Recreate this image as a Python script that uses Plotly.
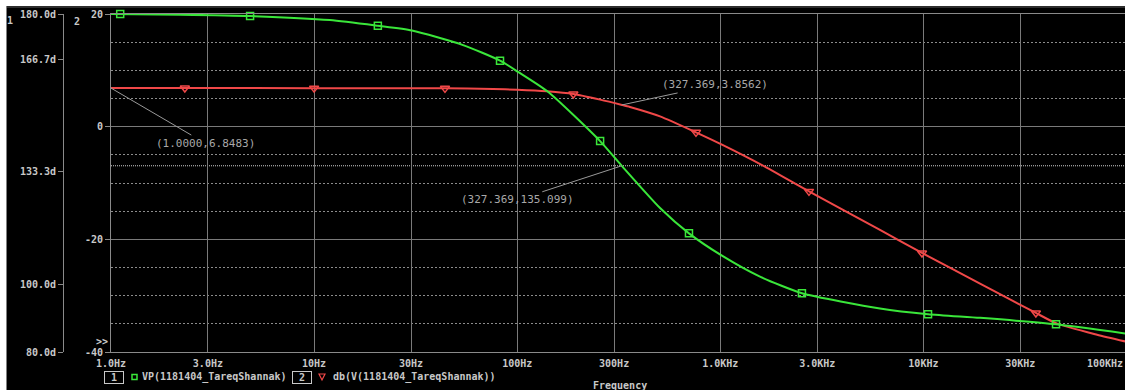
import numpy as np
import plotly.graph_objects as go

W, H = 1125, 390

# ---- data ----
phase_freq = [1, 2.19, 4.84, 11.97, 20.6, 30.3, 54.1, 82.3, 100.9, 141.8, 256, 328, 505, 701,
              1019, 1568, 2523, 6112, 10540, 19000, 44980, 98400]
phase_deg = [180.0, 179.8, 179.4, 178.2, 176.5, 175.1, 170.8, 166.2, 162.9, 157.0, 142.4, 135.0,
             122.6, 115.1, 108.5, 102.3, 97.4, 92.9, 91.2, 90.1, 88.2, 85.5]

mag_freq = [1, 2.31, 10, 44.1, 76, 100, 140, 189, 256, 328, 359, 505, 759, 1019, 1622, 2733,
            6112, 9840, 19000, 35800, 45500, 71600, 98400]
mag_db = [6.85, 6.85, 6.84, 6.80, 6.69, 6.55, 6.27, 5.80, 4.8, 3.86, 3.50, 1.83, -1.01, -3.20,
          -6.92, -11.49, -18.30, -22.42, -27.85, -33.07, -34.97, -36.93, -38.12]

phase_mk_freq = [1.11, 4.84, 20.6, 82.3, 256, 701, 2523, 10540, 44980]
phase_mk_deg = [180.0, 179.4, 176.5, 166.2, 142.4, 115.1, 97.4, 91.2, 88.2]

mag_mk_freq = [2.31, 10, 44.1, 189, 759, 2733, 9840, 35800]
mag_mk_db = [6.85, 6.84, 6.80, 5.80, -1.01, -11.49, -22.42, -33.07]

x_tickvals = [1, 3, 10, 30, 100, 300, 1000, 3000, 10000, 30000]
x_ticktext = ["1.0Hz", "3.0Hz", "10Hz", "30Hz", "100Hz", "300Hz", "1.0KHz", "3.0KHz", "10KHz", "30KHz"]
db_tickvals = [-40, -20, 0, 20]
db_ticktext = ["-40", "-20", "0", "20"]
db_minor = [-35, -30, -25, -15, -10, -5, 5, 10, 15]
ph_tickvals = [80, 100, 133.333, 166.667, 180]
ph_ticktext = ["80.0d", "100.0d", "133.3d", "166.7d", "180.0d"]

cursors = [  # (freq, value, axis, label, ax, ay)
    (1.0, 6.8483, "y", "(1.0000,6.8483)", 94, 55),
    (327.369, 3.8562, "y", "(327.369,3.8562)", 93, -20),
    (327.369, 135.099, "y2", "(327.369,135.099)", -104, 34),
]

GREEN = "#3ae63a"
RED = "#f04848"
GRID = "#7a7a7a"
TXT = "#c8c8c8"
FONT = "DejaVu Sans Mono"

X0_PX, X1_PX = 111, W          # plot area in pixels
DECADE_PX = 203.1
XMAX = (X1_PX - X0_PX) / DECADE_PX


def PX(x):
    return x / W


def PY(y):
    return 1 - y / H


fig = go.Figure()
fig.add_trace(go.Scatter(x=mag_freq, y=mag_db, mode="lines", yaxis="y",
                         line=dict(color=RED, width=2, shape="spline", smoothing=0.6),
                         hoverinfo="skip"))
fig.add_trace(go.Scatter(x=mag_mk_freq, y=mag_mk_db, mode="markers", yaxis="y", cliponaxis=False,
                         marker=dict(symbol="triangle-down-open", size=8, color=RED,
                                     line=dict(width=1.5, color=RED))))
fig.add_trace(go.Scatter(x=phase_freq, y=phase_deg, mode="lines", yaxis="y2",
                         line=dict(color=GREEN, width=2, shape="spline", smoothing=0.6),
                         hoverinfo="skip"))
fig.add_trace(go.Scatter(x=phase_mk_freq, y=phase_mk_deg, mode="markers", yaxis="y2", cliponaxis=False,
                         marker=dict(symbol="square-open", size=7, color=GREEN,
                                     line=dict(width=1.5, color=GREEN))))

tickfont = dict(family=FONT, size=10, color=TXT, weight="bold")

annotations = []
for f, v, ax_name, label, axp, ayp in cursors:
    # anchor in paper x (converted through the log scale) so edge points keep their pointer line
    xpaper = PX(X0_PX + np.log10(f) * DECADE_PX)
    annotations.append(dict(x=xpaper, y=v, xref="paper", yref=ax_name, text=label,
                            showarrow=True, arrowhead=0, arrowwidth=1, arrowcolor="#9a9a9a",
                            ax=axp, ay=ayp, standoff=0,
                            font=dict(family=FONT, size=11, color="#a8a8a8")))

def txt(x, y, s, anchor="center", size=10, color=TXT, **kw):
    annotations.append(dict(x=PX(x), y=PY(y), xref="paper", yref="paper", text=s, showarrow=False,
                            xanchor=anchor, yanchor="middle",
                            font=dict(family=FONT, size=size, color=color, weight="bold"), **kw))

txt(10, 20, "1")
txt(77, 21, "2")
txt(102, 341, "&gt;&gt;")
txt(1125, 363, "100KHz", anchor="right")
txt(114, 377, " 1 ", bordercolor=TXT, borderwidth=1, borderpad=0)
txt(140, 377, "VP(1181404_TareqShannak)", anchor="left")
txt(302, 377, " 2 ", bordercolor=TXT, borderwidth=1, borderpad=0)
txt(331, 377, "db(V(1181404_TareqShannak))", anchor="left")
txt(620, 385, "Frequency")

shapes = [
    dict(type="rect", xref="paper", yref="paper", x0=0, x1=1, y0=PY(6), y1=1.0,
         fillcolor="white", line=dict(width=0), layer="above"),
    dict(type="rect", xref="paper", yref="paper", x0=0, x1=PX(6.5), y0=0, y1=1.0,
         fillcolor="white", line=dict(width=0), layer="above"),
    dict(type="line", xref="paper", yref="paper", x0=PX(7), x1=1, y0=PY(7), y1=PY(7),
         line=dict(color="#5a5a5a", width=1)),
    dict(type="line", xref="paper", yref="y2", x0=PX(111), x1=1, y0=135.099, y1=135.099,
         line=dict(color="#d0d0d0", width=1, dash="1px,1px"), layer="between"),
    dict(type="rect", xref="paper", yref="paper", x0=PX(132), x1=PX(137), y0=PY(379.5), y1=PY(374.5),
         line=dict(color=GREEN, width=1.5)),
    dict(type="path", xref="paper", yref="paper",
         path=f"M {PX(319)} {PY(374)} L {PX(325)} {PY(374)} L {PX(322)} {PY(380)} Z",
         line=dict(color=RED, width=1.2)),
]

fig.update_layout(
    width=W, height=H,
    margin=dict(l=0, r=0, t=0, b=0, pad=0, autoexpand=False),
    paper_bgcolor="black", plot_bgcolor="black",
    showlegend=False,
    xaxis=dict(type="log", domain=[PX(X0_PX), PX(X1_PX)], range=[0, XMAX],
               tickvals=x_tickvals, ticktext=x_ticktext, ticks="",
               showgrid=True, gridcolor=GRID, gridwidth=1,
               showline=True, linecolor="#8a8a8a", linewidth=1, mirror=True,
               zeroline=False, tickfont=tickfont, ticklabelstandoff=2, automargin=False),
    yaxis=dict(domain=[PY(352), PY(14)], range=[-40, 20],
               tickvals=db_tickvals, ticktext=db_ticktext,
               ticks="outside", ticklen=5, tickcolor="#8a8a8a",
               showline=True, linecolor="#8a8a8a", linewidth=1,
               showgrid=True, gridcolor=GRID, gridwidth=1, zeroline=False,
               minor=dict(tickmode="array", tickvals=db_minor, showgrid=True, gridcolor="#8c8c8c",
                          griddash="2px,2px", ticklen=0),
               tickfont=tickfont, ticklabelstandoff=0, automargin=False),
    yaxis2=dict(overlaying="y", anchor="free", position=PX(63), side="left", range=[80, 180],
                tickvals=ph_tickvals, ticktext=ph_ticktext,
                ticks="outside", ticklen=5, tickcolor="#8a8a8a",
                showline=True, linecolor="#8a8a8a", linewidth=1,
                showgrid=False, zeroline=False, tickfont=tickfont, ticklabelstandoff=0,
                automargin=False),
    annotations=annotations,
    shapes=shapes,
)

fig.write_html("out.html")
